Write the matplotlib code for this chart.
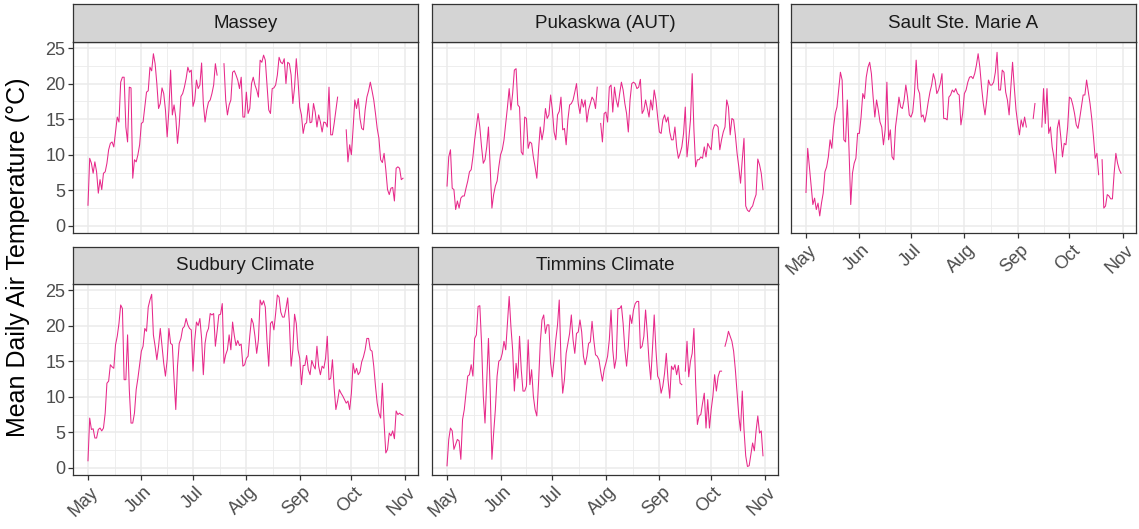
import numpy as np
import pandas as pd
import matplotlib
matplotlib.use("Agg")
import matplotlib.pyplot as plt
import matplotlib.transforms as mtransforms

plt.rcParams['font.family'] = ['Liberation Sans', 'DejaVu Sans']

nan = np.nan
dias = pd.date_range('2019-05-01', '2019-10-31', freq='D')

estaciones = ['Massey', 'Pukaskwa (AUT)', 'Sault Ste. Marie A', 'Sudbury Climate', 'Timmins Climate']

# temperatura media diaria (°C), mayo-octubre
massey = [
    2.9, 9.5, 8.8, 7.4, 9.0, 7.6, 4.6, 6.5, 5.1, 7.4, 7.6, 8.8, 10.7, 11.6, 11.8, 11.1, 13.2, 15.3, 14.6, 20.2,
    20.9, 20.9, 13.9, 11.8, 19.5, 19.4, 6.7, 9.3, 9.0, 10.0, 11.4,
    14.4, 14.6, 16.7, 18.8, 19.0, 22.3, 21.8, 24.2, 22.8, 20.0, 16.5, 17.2, 19.4, 18.6, 16.3, 12.5, 16.3, 21.9,
    15.6, 17.0, 15.3, 11.6, 14.2, 18.2, 18.6, 19.5, 20.7, 22.3, 21.6, 21.9,
    16.8, 17.7, 20.5, 19.3, 19.8, 22.9, 17.2, 14.6, 16.3, 17.4, 17.7, 18.6, 19.8, 22.8, 21.2, nan, nan, nan,
    22.8, 17.7, 15.6, 17.0, 17.7, 21.6, 21.8, 21.2, 20.5, 19.3, 20.9, 15.3, 15.3,
    18.8, 15.8, 16.5, 20.0, 20.9, 19.8, 19.1, 18.1, 23.3, 23.0, 24.0, 23.3, 19.8, 16.3, 15.8, 19.3, 19.4, 19.8,
    21.2, 23.7, 23.0, 22.8, 23.5, 20.0, 23.0, 22.8, 21.2, 17.2, 19.5, 23.5, 20.5,
    16.7, 15.6, 13.0, 14.3, 14.5, 17.2, 14.5, 14.6, 17.2, 16.0, 13.9, 15.6, 14.6, 13.2, 14.6, 14.5, 13.9, 19.5,
    12.8, 12.8, 14.4, 16.3, 18.1, nan, nan, nan, nan, 13.5, 9.0, 11.4,
    10.0, 13.7, 17.7, 16.5, 17.9, 15.1, 13.7, 13.5, 16.3, 18.1, 19.0, 20.2, 19.0, 17.7, 15.8, 13.7, 12.3, 9.3,
    8.9, 10.2, 7.9, 5.1, 4.4, 5.3, 5.4, 3.5, 8.1, 8.3, 8.1, 6.5, 6.7,
]
pukaskwa = [
    5.6, 9.7, 10.7, 5.3, 5.1, 2.3, 3.5, 2.5, 3.9, 4.2, 4.2, 5.3, 6.3, 7.6, 7.9, 9.7, 12.1, 13.9, 15.8, 13.9,
    11.1, 8.8, 9.3, 11.1, 13.9, 8.3, 2.5, 4.4, 5.6, 6.3, 8.3,
    10.0, 10.7, 12.1, 14.4, 16.7, 19.3, 16.3, 18.6, 21.9, 22.1, 17.0, 16.7, 10.4, 10.0, 15.3, 15.1, 10.9, 11.8,
    11.6, 9.7, 8.3, 6.7, 10.7, 13.9, 12.1, 13.5, 16.5, 15.1, 15.6, 18.4,
    16.3, 13.2, 12.1, 15.6, 16.1, 18.1, 13.5, 13.7, 11.4, 14.9, 17.0, 17.2, 17.7, 18.8, 20.0, 17.2, 15.8, 17.8,
    16.7, 17.7, 14.6, 16.3, 17.2, 18.1, 17.7, 16.5, 19.5, nan, 14.4, 11.8, 15.8,
    16.0, 14.6, 19.5, 19.8, 16.0, 19.5, 17.7, 16.7, 18.6, 20.2, 19.1, 17.2, 15.8, 13.2, 17.7, 20.0, 20.2, 20.0,
    19.3, 19.5, 20.6, 15.8, 16.3, 17.7, 16.5, 15.3, 17.7, 16.3, 19.1, 17.7, 15.3,
    13.2, 13.0, 14.9, 15.6, 14.6, 15.3, 13.2, 12.1, 12.1, 13.9, 11.1, 9.5, 10.2, 11.1, 13.0, 16.7, 9.7, 12.1,
    14.9, 21.4, 13.5, 8.3, 9.3, 9.3, 9.7, 9.5, 11.1, 9.7, 11.6, 11.1,
    10.7, 13.5, 14.2, 14.2, 13.9, 10.7, 12.1, 13.2, 13.9, 17.7, 16.7, 12.8, 15.1, 14.9, 12.8, 10.2, 8.3, 6.0,
    9.3, 12.3, 2.8, 2.2, 2.0, 2.5, 2.8, 3.7, 4.4, 9.4, 8.6, 7.4, 5.1,
]
sault = [
    4.7, 10.9, 8.3, 5.8, 3.0, 3.9, 2.3, 3.2, 1.4, 3.2, 4.6, 7.6, 8.3, 9.7, 12.1, 10.9, 13.9, 15.8, 16.7, 19.1,
    21.6, 20.5, 12.1, 11.8, 17.7, 10.7, 3.0, 7.4, 8.8, 9.5, 13.0,
    13.0, 15.3, 18.6, 17.9, 20.9, 22.3, 23.0, 21.4, 18.1, 15.3, 17.7, 16.3, 14.6, 13.9, 11.4, 13.5, 20.2, 12.1,
    13.5, 9.7, 9.3, 13.9, 15.8, 18.1, 16.7, 16.5, 17.7, 19.8, 18.1, 15.6,
    15.3, 16.0, 18.6, 23.3, 19.3, 18.6, 15.3, 15.6, 14.6, 15.8, 17.4, 18.8, 19.8, 21.4, 20.5, 18.6, 19.1, 20.0,
    21.4, 15.1, 15.1, 14.9, 18.1, 18.4, 19.1, 18.8, 19.3, 18.6, 18.4, 14.2, 15.8,
    18.6, 19.1, 20.2, 20.9, 21.0, 20.7, 21.4, 22.6, 24.2, 22.3, 19.5, 17.2, 15.6, 17.7, 20.5, 19.8, 19.8, 20.2,
    21.6, 24.4, 19.1, 19.1, 21.9, 21.6, 18.8, 17.7, 15.6, 19.5, 23.0, 19.5, 16.3,
    14.4, 12.8, 14.9, 13.9, 15.3, 13.9, nan, nan, nan, 15.1, 17.2, nan, nan, nan, 13.9, 19.3, 14.4, 19.3,
    13.0, 13.9, 11.1, 9.7, 7.4, 13.7, 14.9, 12.5, 9.7, 11.6, 11.4, 13.9,
    18.1, 17.9, 17.0, 15.8, 14.2, 13.7, 15.1, 16.7, 18.4, 18.4, 20.5, 18.8, 17.2, 15.1, 12.5, 9.5, 10.2, 7.2,
    nan, 9.3, 2.5, 2.8, 4.4, 4.2, 3.8, 3.8, 7.4, 10.2, 8.8, 7.9, 7.4,
]
sudbury = [
    1.0, 7.0, 5.4, 5.5, 4.2, 4.2, 5.4, 5.6, 5.2, 5.6, 7.7, 11.9, 12.2, 14.5, 14.2, 14.0, 17.3, 18.5, 20.3, 22.9,
    22.4, 12.4, 12.4, 18.7, 11.0, 6.3, 6.3, 7.7, 11.0, 12.6, 14.5,
    16.4, 17.1, 19.6, 19.2, 22.6, 23.6, 24.4, 18.7, 17.1, 15.2, 17.1, 19.6, 17.1, 14.7, 12.9, 15.2, 19.6, 17.5,
    17.3, 12.4, 8.2, 14.3, 17.5, 18.2, 19.6, 19.9, 21.0, 20.1, 19.6, 19.4,
    13.6, 17.9, 20.5, 20.0, 21.0, 18.2, 13.1, 17.5, 19.0, 19.6, 21.7, 21.5, 21.7, 17.1, 19.2, 21.5, 21.6, 23.1,
    14.7, 15.9, 16.6, 18.7, 16.6, 20.5, 18.6, 17.2, 17.9, 17.2, 17.4, 14.3, 14.5,
    15.4, 15.7, 18.6, 21.0, 20.3, 18.5, 16.1, 18.0, 23.6, 22.9, 23.5, 22.6, 17.8, 14.3, 20.3, 20.6, 19.4, 21.7,
    24.3, 24.0, 21.9, 21.2, 21.2, 22.4, 23.9, 20.3, 14.3, 16.6, 21.6, 20.3, 16.6,
    15.4, 11.7, 14.4, 14.4, 15.8, 13.8, 13.1, 15.1, 14.4, 13.9, 17.1, 14.3, 13.1, 14.3, 14.0, 15.4, 18.5, 12.4,
    12.6, 15.2, 11.2, 8.2, 9.4, 11.0, 10.5, 10.1, 9.6, 9.1, 9.4, 8.2,
    10.5, 14.7, 13.3, 14.0, 13.1, 13.5, 14.9, 15.6, 16.6, 18.2, 18.2, 16.6, 16.4, 14.3, 11.5, 9.1, 7.7, 7.0,
    11.9, 6.3, 2.1, 2.6, 4.9, 4.5, 5.2, 4.1, 8.0, 7.5, 7.7, 7.5, 7.4,
]
timmins = [
    0.3, 4.0, 5.6, 5.2, 2.6, 3.3, 4.0, 3.8, 1.2, 6.8, 8.2, 10.5, 12.9, 13.1, 14.5, 12.9, 18.2, 18.7, 22.7, 22.8,
    17.5, 10.1, 6.3, 12.4, 18.2, 11.0, 1.2, 4.9, 8.2, 12.9, 15.0,
    15.2, 16.1, 17.8, 16.6, 20.3, 24.1, 19.9, 16.6, 10.8, 14.7, 12.6, 18.5, 13.8, 10.8, 10.8, 11.5, 18.0, 11.7,
    13.8, 10.1, 8.2, 7.3, 11.9, 17.5, 20.8, 21.5, 18.9, 20.1, 20.1, 14.7,
    12.8, 15.2, 18.0, 20.1, 23.6, 15.2, 10.5, 12.4, 16.1, 17.5, 18.9, 21.5, 18.0, 16.1, 18.9, 19.1, 20.8, 19.1,
    15.7, 14.5, 15.7, 17.5, 17.7, 20.6, 18.0, 15.9, 15.7, 15.2, 13.6, 12.2, 13.8,
    14.7, 15.7, 18.0, 22.2, 16.6, 14.0, 15.4, 22.4, 22.4, 22.8, 20.3, 16.6, 14.3, 17.1, 21.5, 20.3, 22.2, 23.1,
    23.4, 23.4, 16.8, 17.1, 18.5, 22.2, 18.9, 15.0, 12.4, 16.8, 21.5, 16.6, 12.9,
    12.4, 10.5, 11.5, 13.3, 16.1, 12.4, 9.8, 14.3, 13.8, 14.5, 13.1, 14.4, 11.9, 11.7, nan, 13.6, 17.8, 12.8,
    15.0, 16.1, 19.6, 11.9, 6.1, 7.3, 7.5, 9.1, 10.5, 5.6, 9.6, 5.6,
    8.2, 10.1, 13.1, 10.8, 12.8, 13.6, 13.6, nan, 17.1, 18.0, 19.2, 18.5, 17.8, 16.4, 13.8, 10.5, 7.3, 5.2,
    10.8, 5.4, 1.7, 0.2, 0.3, 1.9, 3.5, 2.4, 5.2, 7.3, 4.9, 5.2, 1.7,
]

series = [massey, pukaskwa, sault, sudbury, timmins]

meses = pd.date_range('2019-05-01', '2019-11-01', freq='MS')
etiquetas_meses = ['May', 'Jun', 'Jul', 'Aug', 'Sep', 'Oct', 'Nov']
medios = meses[:-1] + (meses[1:] - meses[:-1]) / 2

W, H = 1139, 529
def caja(x0, y0, x1, y1):
    return [x0 / W, 1 - y1 / H, (x1 - x0) / W, (y1 - y0) / H]

# (x0, x1, y_tira, y0, y1) de cada panel en pixeles
paneles = [
    (73, 418, 4, 42, 233),
    (432, 778, 4, 42, 233),
    (791, 1136, 4, 42, 233),
    (73, 418, 247, 284, 475),
    (432, 778, 247, 284, 475),
]
con_eje_x = [False, False, True, True, True]
con_eje_y = [True, False, False, True, False]

fig = plt.figure(figsize=(W / 100, H / 100), dpi=100)
gris = '#333333'
pad = pd.Timedelta(days=8.7)
desplazo = mtransforms.ScaledTranslation(2 / 100, -1 / 100, fig.dpi_scale_trans)

for i, nombre in enumerate(estaciones):
    x0, x1, yt, y0, y1 = paneles[i]
    ax = fig.add_axes(caja(x0, y0, x1, y1))
    ax.plot(dias, series[i], color='#E7298A', lw=0.75)
    ax.set_xlim(dias[0] - pad, dias[-1] + pad)
    ax.set_ylim(-1.0, 25.85)

    ax.set_xticks(meses)
    ax.set_xticks(medios, minor=True)
    ax.set_yticks([0, 5, 10, 15, 20, 25])
    ax.set_yticks([2.5, 7.5, 12.5, 17.5, 22.5], minor=True)
    ax.grid(True, which='major', color='#EBEBEB', lw=1.1)
    ax.grid(True, which='minor', color='#EBEBEB', lw=0.6)
    ax.set_axisbelow(True)
    for s in ax.spines.values():
        s.set_color(gris)
        s.set_linewidth(0.9)
    ax.tick_params(which='minor', length=0)
    ax.tick_params(which='major', length=3.5, width=0.9, color=gris,
                   labelcolor='#4D4D4D', labelsize=13, pad=2)

    if con_eje_x[i]:
        ax.set_xticklabels(etiquetas_meses, rotation=45, ha='right', va='top',
                           rotation_mode='anchor')
        for t in ax.get_xticklabels():
            t.set_transform(t.get_transform() + desplazo)
    else:
        ax.tick_params(axis='x', which='major', length=0, labelbottom=False)
    if not con_eje_y[i]:
        ax.tick_params(axis='y', which='major', length=0, labelleft=False)

    # tira con el nombre de la estacion
    tira = fig.add_axes(caja(x0, yt, x1, y0))
    tira.set_facecolor('#D4D4D4')
    tira.set_xticks([])
    tira.set_yticks([])
    for s in tira.spines.values():
        s.set_color(gris)
        s.set_linewidth(0.9)
    tira.text(0.5, 0.5, nombre, ha='center', va='center', fontsize=13.5, color='#1A1A1A',
              transform=tira.transAxes)

fig.text(18 / W, 1 - 257 / H, 'Mean Daily Air Temperature (°C)', rotation=90, ha='center',
         va='center', fontsize=18, color='black')

fig.savefig('out.png', dpi=100)
